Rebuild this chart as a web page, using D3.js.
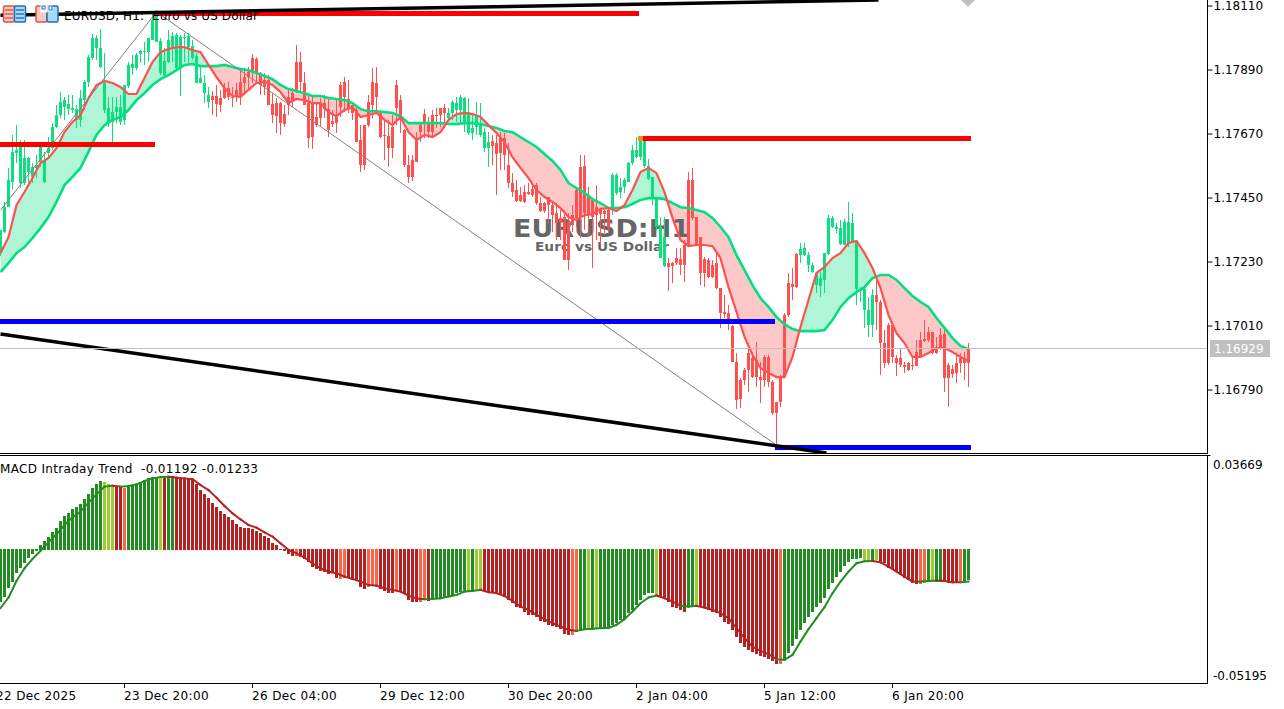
<!DOCTYPE html>
<html>
<head>
<meta charset="utf-8">
<script src="https://cdn.jsdelivr.net/npm/d3@7"></script>
<style>
  html, body { margin: 0; padding: 0; background: #fff; overflow: hidden; }
  text { font-family: "DejaVu Sans", sans-serif; font-size: 12px; fill: #000; }
  .tick text { font-family: "DejaVu Sans", sans-serif; font-size: 12px; }
</style>
</head>
<body>
<script>
// all prices are in points above 1.16000 (1 point = 0.00001)
var base = 1.16;

var highs = [
1336,1433,1550,1663,1697,1646,1646,1587,1567,1594,
1639,1605,1656,1704,1766,1811,1794,1800,1800,1766,
1818,1852,1938,2010,2007,2027,1945,1794,1794,1794,
1800,1835,1914,1938,1945,1955,1983,1996,2086,2093,
1996,1962,2024,2017,2014,2007,2014,2014,1990,1945,
1904,1869,1828,1814,1835,1818,1842,1845,1828,1842,
1886,1893,1897,1941,1931,1879,1876,1869,1807,1790,
1776,1766,1818,1824,1972,1948,1879,1800,1794,1773,
1790,1800,1790,1749,1783,1845,1862,1852,1766,1759,
1697,1697,1800,1893,1897,1742,1715,1715,1732,1852,
1800,1684,1594,1594,1673,1708,1752,1725,1749,1756,
1756,1770,1756,1783,1794,1800,1794,1790,1739,1776,
1773,1687,1673,1663,1663,1673,1670,1635,1532,1508,
1484,1491,1498,1498,1498,1450,1433,1450,1433,1429,
1405,1405,1395,1422,1481,1594,1594,1484,1440,1491,
1412,1405,1412,1532,1532,1515,1515,1570,1629,1656,
1660,1660,1580,1519,1446,1381,1381,1240,1226,1274,
1274,1302,1536,1550,1381,1312,1243,1240,1233,1257,
1137,1113,1079,1010,914,828,862,948,917,951,
883,907,907,821,745,838,1051,1189,1206,1257,
1292,1292,1261,1223,1192,1192,1257,1388,1384,1360,
1371,1374,1433,1395,1295,1140,1137,1106,1134,1165,
1096,993,1017,1010,907,931,883,883,900,958,
986,1027,1003,986,969,1000,993,879,872,907,
914,917,948];

var lows = [
1247,1326,1415,1474,1567,1481,1491,1498,1498,1515,
1553,1498,1584,1611,1687,1721,1715,1732,1739,1687,
1690,1749,1828,1921,1921,1893,1739,1690,1639,1704,
1697,1697,1824,1869,1886,1910,1904,1914,1990,1983,
1869,1862,1910,1914,1886,1797,1914,1910,1921,1842,
1842,1773,1756,1732,1725,1742,1787,1783,1759,1776,
1766,1800,1818,1842,1845,1800,1800,1766,1704,1670,
1663,1690,1732,1759,1807,1807,1766,1618,1615,1690,
1690,1721,1656,1690,1670,1725,1742,1739,1715,1639,
1536,1543,1690,1721,1742,1653,1577,1553,1584,1697,
1670,1553,1498,1505,1570,1639,1653,1653,1656,1687,
1690,1687,1708,1715,1708,1704,1673,1663,1646,1663,
1656,1605,1553,1560,1457,1543,1543,1481,1450,1433,
1433,1429,1457,1450,1422,1398,1395,1360,1329,1302,
1302,1233,1199,1329,1347,1309,1336,1312,1206,1302,
1295,1326,1329,1388,1457,1446,1464,1501,1560,1584,
1577,1550,1508,1422,1336,1240,1209,1127,1154,1216,
1182,1158,1285,1371,1285,1147,1140,1171,1171,1134,
1000,1034,993,883,721,725,804,779,828,797,
742,797,797,700,597,728,828,1037,1096,1137,
1223,1247,1192,1189,1120,1106,1120,1250,1343,1326,
1285,1285,1278,1292,1079,1089,1000,969,969,993,
838,862,872,879,834,865,845,852,855,869,
896,951,951,910,910,924,779,728,828,810,
845,821,797];

var bodyTops = [
1336,1415,1508,1605,1611,1639,1584,1584,1553,1560,
1622,1577,1618,1690,1732,1776,1783,1770,1756,1752,
1790,1845,1931,1996,1996,1962,1842,1756,1742,1759,
1759,1835,1904,1907,1938,1952,1952,1996,2058,2082,
1986,1917,1990,2003,2007,2000,2000,2003,1969,1934,
1859,1842,1800,1797,1797,1790,1824,1824,1794,1818,
1845,1862,1879,1928,1924,1876,1852,1852,1770,1773,
1773,1735,1794,1807,1914,1914,1842,1773,1773,1725,
1773,1773,1752,1711,1728,1835,1845,1787,1766,1749,
1646,1697,1776,1845,1842,1739,1663,1660,1690,1835,
1783,1680,1560,1577,1653,1697,1735,1704,1732,1732,
1756,1756,1739,1776,1773,1794,1790,1742,1687,1732,
1704,1673,1639,1642,1635,1653,1653,1560,1498,1474,
1457,1467,1467,1477,1491,1429,1429,1450,1422,1395,
1378,1381,1364,1388,1474,1553,1556,1457,1440,1415,
1405,1402,1405,1525,1525,1484,1508,1567,1611,1611,
1646,1646,1556,1519,1446,1347,1312,1223,1223,1240,
1237,1285,1508,1508,1381,1312,1237,1233,1216,1223,
1137,1055,1051,1006,883,821,855,914,896,890,
831,900,900,814,745,831,1044,1154,1151,1254,
1271,1274,1250,1216,1189,1171,1257,1378,1378,1347,
1343,1364,1364,1360,1295,1134,1134,1061,1113,1113,
1089,948,1010,1010,896,896,872,879,872,917,
958,962,986,986,934,976,979,872,859,879,
896,896,927];

var bodyBottoms = [
1257,1329,1415,1501,1601,1498,1498,1536,1519,1550,
1570,1501,1601,1618,1690,1732,1759,1752,1749,1715,
1715,1783,1845,1928,1962,1897,1749,1704,1708,1742,
1708,1715,1831,1893,1893,1941,1948,1948,1990,1983,
1876,1869,1914,1965,1893,1893,1996,1965,1928,1842,
1842,1807,1776,1783,1770,1766,1790,1794,1790,1797,
1794,1842,1862,1879,1876,1835,1828,1766,1732,1728,
1704,1701,1766,1783,1811,1845,1766,1653,1656,1697,
1721,1752,1680,1701,1704,1759,1794,1756,1739,1639,
1560,1560,1697,1766,1794,1656,1660,1618,1618,1756,
1715,1560,1519,1519,1570,1673,1704,1673,1673,1728,
1732,1739,1721,1739,1749,1749,1704,1670,1670,1690,
1663,1618,1618,1625,1598,1601,1594,1498,1467,1436,
1436,1433,1460,1457,1429,1402,1402,1422,1388,1360,
1364,1233,1233,1354,1378,1381,1395,1388,1381,1388,
1391,1391,1347,1405,1464,1467,1484,1501,1567,1587,
1587,1556,1512,1446,1347,1240,1213,1209,1213,1223,
1216,1216,1285,1378,1285,1189,1189,1175,1175,1137,
1051,1048,1027,883,752,755,821,855,831,831,
821,821,814,707,707,745,831,1044,1140,1140,
1250,1250,1216,1192,1147,1144,1165,1254,1347,1340,
1288,1285,1292,1295,1134,1130,1061,1010,1010,1089,
948,879,879,900,879,872,865,855,869,869,
900,955,958,914,914,931,828,828,841,845,
879,879,879];

// colour runs of the candles: [trend, number of bars]
var candleRuns = [["up",53],["down",59],["up",11],["down",30],["up",14],["down",33],["up",19],["down",24]];

// the two moving averages, read at every second bar
var lineStep = 2;
var fastLine = [
1257,1312,1422,1467,1515,1567,1584,1618,1673,1708,
1732,1790,1835,1849,1842,1828,1804,1804,1859,1914,
1948,1959,1965,1965,1955,1948,1904,1862,1824,1797,
1794,1818,1842,1845,1835,1811,1773,1787,1783,1773,
1773,1742,1728,1749,1759,1725,1732,1739,1715,1697,
1725,1673,1646,1663,1656,1673,1715,1735,1739,1735,
1725,1697,1670,1639,1587,1550,1515,1474,1450,1433,
1412,1381,1371,1388,1391,1409,1412,1402,1422,1474,
1536,1550,1532,1467,1378,1302,1281,1285,1285,1281,
1240,1140,1055,969,907,862,845,831,831,900,
1003,1096,1189,1209,1240,1257,1292,1299,1257,1206,
1137,1044,982,948,900,900,914,931,931,917,
900,886];
var slowLine = [
1192,1223,1257,1278,1309,1343,1381,1433,1491,1519,
1550,1605,1663,1697,1715,1725,1749,1783,1807,1835,
1855,1869,1886,1904,1907,1900,1900,1900,1904,1897,
1890,1886,1876,1866,1855,1835,1821,1814,1807,1797,
1797,1790,1787,1783,1773,1752,1745,1745,1742,1739,
1728,1704,1704,1704,1704,1704,1701,1701,1704,1704,
1701,1694,1687,1677,1673,1656,1639,1622,1598,1574,
1543,1498,1481,1464,1443,1429,1412,1412,1415,1426,
1440,1446,1446,1443,1429,1415,1412,1405,1398,1378,
1347,1312,1250,1199,1147,1102,1072,1037,1013,996,
989,989,989,993,1027,1072,1102,1123,1140,1171,
1182,1182,1165,1137,1110,1089,1072,1034,1000,965,
938,927];

var priceTicks = [1.1811, 1.1789, 1.1767, 1.1745, 1.1723, 1.1701, 1.1679];
var lastPrice = 1.16929;

// support and resistance levels: bar from, bar to, points
var redLevels = [[38.5,159.5,2081],[-1,38.7,1632],[159.5,242.5,1651]];
var blueLevels = [[-1,193.7,1022],[193.7,242.5,589]];
var blackBars = [0,219.5];
var blackTop = [2075,2127];
var blackBottomBars = [0,206.5];
var blackBottom = [979,570];
var zigBars = [0,39,194];
var zigPoints = [1405,2086,597];

// macd histogram, in 0.00001 units
var macdHist = [
-2015,-1820,-1495,-1235,-884,-715,-520,-325,-169,-39,
195,351,494,689,871,1131,1326,1430,1586,1690,
1781,1989,2171,2431,2561,2691,2639,2561,2509,2509,
2496,2431,2509,2535,2561,2665,2730,2795,2860,2860,
2795,2860,2886,2886,2834,2821,2795,2795,2730,2561,
2340,2171,2015,1820,1690,1534,1391,1300,1170,1001,
910,871,845,806,741,650,546,455,260,195,
39,-39,-169,-234,-234,-260,-351,-481,-650,-754,
-819,-845,-949,-884,-1105,-1131,-1105,-1079,-1131,-1170,
-1456,-1521,-1456,-1404,-1404,-1521,-1586,-1664,-1690,-1586,
-1651,-1716,-1950,-2015,-2015,-2015,-1950,-1976,-1885,-1911,
-1859,-1820,-1781,-1755,-1690,-1625,-1586,-1586,-1586,-1586,
-1560,-1599,-1651,-1690,-1690,-1755,-1820,-1950,-2080,-2236,
-2275,-2431,-2535,-2535,-2626,-2756,-2795,-2925,-2951,-3016,
-3094,-3276,-3315,-3315,-3185,-3146,-3120,-3094,-3068,-3068,
-3055,-3029,-3016,-2925,-2860,-2730,-2691,-2470,-2340,-2145,
-1950,-1755,-1690,-1690,-1755,-1820,-1924,-2015,-2210,-2275,
-2340,-2405,-2210,-2184,-2145,-2236,-2275,-2340,-2405,-2470,
-2626,-2795,-2886,-3120,-3380,-3614,-3770,-3900,-3965,-4056,
-4160,-4186,-4264,-4329,-4446,-4446,-4290,-4030,-3744,-3484,
-3120,-2834,-2626,-2405,-2236,-2054,-1885,-1534,-1274,-1066,
-845,-624,-455,-364,-338,-325,-390,-416,-416,-390,
-455,-520,-715,-754,-845,-975,-1105,-1170,-1300,-1326,
-1326,-1274,-1235,-1235,-1235,-1235,-1235,-1274,-1274,-1274,
-1274,-1235,-1192];

// macd signal, read at every second bar
var macdSignal = [
-2275,-1859,-1209,-715,-351,-39,299,611,975,1274,
1495,1846,2171,2470,2509,2470,2496,2561,2691,2795,
2847,2860,2821,2795,2769,2535,2340,2041,1716,1430,
1196,975,871,689,520,260,0,-130,-299,-520,
-715,-845,
-910,-1040,-1131,-1235,-1365,-1391,-1495,-1560,-1625,-1781,
-1898,-1924,-1911,-1885,-1820,-1755,-1625,-1599,-1560,-1651,
-1690,-1794,-1989,-2210,-2340,-2535,-2704,-2860,-2990,-3120,
-3159,-3094,-3081,-3055,-3042,-2925,-2704,-2405,-2080,-1859,
-1781,
-1885,-2015,-2171,-2210,-2184,-2249,-2340,-2470,-2665,-3055,
-3445,-3770,-3939,-4069,-4264,-4290,-4095,-3575,-3094,-2665,
-2236,-1690,-1235,-845,-520,-442,-429,-481,-650,-845,
-1040,-1235,-1235,-1209,-1196,-1209,-1261,-1261,-1233];

// histogram colour runs: G rising up, L falling up, R falling, O rising down
var histRuns = [["G",26],["L",3],["R",2],["O",1],["G",8],["L",1],["R",1],["G",2],["R",30],["O",1],
  ["R",10],["O",2],["R",5],["O",3],["R",4],["O",1],["R",5],["O",2],["R",1],["G",9],["L",1],["G",1],
  ["L",2],["R",22],["O",2],["G",2],["L",1],["G",1],["L",1],["G",14],["L",1],["R",7],["G",2],["L",1],
  ["R",20],["O",1],["G",20],["L",2],["G",1],["L",1],["R",10],["O",2],["G",1],["L",1],["G",2],["R",4],
  ["O",1],["G",2]];

var macdRange = [-0.05195, 0.03669];
var timeBars = [-1, 31, 63, 95, 127, 159, 191, 223];
var timeLabels = ["22 Dec 2025","23 Dec 20:00","26 Dec 04:00","29 Dec 12:00","30 Dec 20:00","2 Jan 04:00","5 Jan 12:00","6 Jan 20:00"];

var width = 1284;
var height = 709;
var axisX = 1207.5;

var histColors = {G: "#228B22", L: "#9ACD32", R: "#B22222", O: "#FF6347"};
var candleColors = {up: "#0CE07E", down: "#FF5050"};

function expand(runs) {
  var out = [];
  runs.forEach(r => { for (var k = 0; k < r[1]; k++) out.push(r[0]); });
  return out;
}
function price(p) { return base + p / 100000; }

var candleKind = expand(candleRuns);
var histKind = expand(histRuns);

var svg = d3.select("body").append("svg")
  .attr("width", width)
  .attr("height", height)
  .style("display", "block");

var defs = svg.append("defs");
defs.append("clipPath").attr("id", "mainClip").append("rect")
  .attr("x", 0).attr("y", 0).attr("width", axisX).attr("height", 453);
defs.append("clipPath").attr("id", "subClip").append("rect")
  .attr("x", 0).attr("y", 456).attr("width", axisX).attr("height", 227);

// bar index to pixel, 4px a bar
var x = d3.scaleLinear().domain([0, 242]).range([0.5, 968.5]);
var y = d3.scaleLinear().domain([1.1811, 1.1679]).range([5, 389]);
var yMacd = d3.scaleLinear().domain(macdRange).range([683, 456]);

var main = svg.append("g").attr("clip-path", "url(#mainClip)");

// fill between the two moving averages
var lineData = fastLine.map((d, i) => ({i: i * lineStep, fast: price(d), slow: price(slowLine[i])}));

var aboveSlow = d3.area().x(d => x(d.i)).y0(-20).y1(d => y(d.slow));
var belowSlow = d3.area().x(d => x(d.i)).y0(d => y(d.slow)).y1(520);
defs.append("clipPath").attr("id", "aboveSlow").append("path").attr("d", aboveSlow(lineData));
defs.append("clipPath").attr("id", "belowSlow").append("path").attr("d", belowSlow(lineData));

var band = d3.area().x(d => x(d.i)).y0(d => y(d.fast)).y1(d => y(d.slow));
main.append("path").attr("d", band(lineData)).attr("fill", "#B0F5D5").attr("clip-path", "url(#aboveSlow)");
main.append("path").attr("d", band(lineData)).attr("fill", "#FFC8C8").attr("clip-path", "url(#belowSlow)");

// watermark goes over the fill but under the candles
main.append("text").text("EURUSD:H1")
  .attr("x", 513).attr("y", 237)
  .attr("textLength", 177).attr("lengthAdjust", "spacingAndGlyphs")
  .style("font-family", "'DejaVu Sans', sans-serif")
  .style("font-weight", "bold").style("font-size", "25px").style("fill", "#666");
main.append("text").text("Euro vs US Dollar")
  .attr("x", 535).attr("y", 251)
  .attr("textLength", 134).attr("lengthAdjust", "spacingAndGlyphs")
  .style("font-family", "'DejaVu Sans', sans-serif")
  .style("font-weight", "bold").style("font-size", "12.5px").style("fill", "#666");

// current price line
svg.append("line")
  .attr("x1", 0).attr("x2", axisX)
  .attr("y1", Math.floor(y(lastPrice)) + 0.5).attr("y2", Math.floor(y(lastPrice)) + 0.5)
  .attr("stroke", "#C0C0C0");

// candles
var bars = d3.range(highs.length);
main.append("g").selectAll("line")
  .data(bars)
  .join("line")
  .attr("x1", d => x(d)).attr("x2", d => x(d))
  .attr("y1", d => y(price(highs[d]))).attr("y2", d => y(price(lows[d])))
  .attr("stroke", d => candleColors[candleKind[d]])
  .attr("shape-rendering", "crispEdges");
main.append("g").selectAll("rect")
  .data(bars)
  .join("rect")
  .attr("x", d => x(d) - 1.5)
  .attr("width", 3)
  .attr("y", d => y(price(bodyTops[d])))
  .attr("height", d => Math.max(1, y(price(bodyBottoms[d])) - y(price(bodyTops[d]))))
  .attr("fill", d => candleColors[candleKind[d]])
  .attr("shape-rendering", "crispEdges");

// moving averages
main.append("path")
  .attr("d", d3.line().x(d => x(d.i)).y(d => y(d.slow))(lineData))
  .attr("fill", "none").attr("stroke", "#00E080").attr("stroke-width", 2.6);
main.append("path")
  .attr("d", d3.line().x(d => x(d.i)).y(d => y(d.fast))(lineData))
  .attr("fill", "none").attr("stroke", "#FF5050").attr("stroke-width", 2.2);

// zigzag
var zigData = zigBars.map((b, i) => [b, price(zigPoints[i])]);
main.append("path")
  .attr("d", d3.line().x(d => x(d[0])).y(d => y(d[1]))(zigData))
  .attr("fill", "none").attr("stroke", "#808080").attr("stroke-width", 1);

// levels
main.selectAll(".red-level")
  .data(redLevels)
  .join("line")
  .attr("class", "red-level")
  .attr("x1", d => x(d[0])).attr("x2", d => x(d[1]))
  .attr("y1", d => y(price(d[2]))).attr("y2", d => y(price(d[2])))
  .attr("stroke", "#FF0000").attr("stroke-width", 5)
  .attr("shape-rendering", "crispEdges");
main.selectAll(".blue-level")
  .data(blueLevels)
  .join("line")
  .attr("class", "blue-level")
  .attr("x1", d => x(d[0])).attr("x2", d => x(d[1]))
  .attr("y1", d => y(price(d[2]))).attr("y2", d => y(price(d[2])))
  .attr("stroke", "#0000FF").attr("stroke-width", 5)
  .attr("shape-rendering", "crispEdges");

// small orange corners where levels begin
main.append("rect").attr("x", 638).attr("y", y(price(1651)) - 2.5).attr("width", 5).attr("height", 5).attr("fill", "#FF8C00");
main.append("rect").attr("x", 154).attr("y", y(price(2081)) - 2.5).attr("width", 10).attr("height", 2).attr("fill", "#FF8C00");

// black trend lines
main.append("line")
  .attr("x1", x(blackBars[0])).attr("x2", x(blackBars[1]))
  .attr("y1", y(price(blackTop[0]))).attr("y2", y(price(blackTop[1])))
  .attr("stroke", "#000").attr("stroke-width", 3.5);
main.append("line")
  .attr("x1", x(blackBottomBars[0])).attr("x2", x(blackBottomBars[1]))
  .attr("y1", y(price(blackBottom[0]))).attr("y2", y(price(blackBottom[1])))
  .attr("stroke", "#000").attr("stroke-width", 3.5);

// grey arrow at the top
main.append("path").attr("d", "M961,0L975,0L968,7Z").attr("fill", "#C0C0C0");

// header
svg.append("text").text("EURUSD, H1:  Euro vs US Dollar").attr("x", 64).attr("y", 20)
  .attr("textLength", 194).attr("lengthAdjust", "spacing")
  .style("white-space", "pre");

// the two toolbar icons
function icon(ox, parts) {
  var g = svg.append("g").attr("transform", "translate(" + ox + ",5.5)");
  g.append("rect").attr("x", 0.5).attr("y", 0.5).attr("width", 11).attr("height", 16).attr("rx", 1.5)
    .attr("fill", "#FFC8BC").attr("stroke", "#E0504A").attr("stroke-width", 1.5);
  g.append("rect").attr("x", 11.5).attr("y", 0.5).attr("width", 11).attr("height", 16).attr("rx", 1.5)
    .attr("fill", "#A8D8F8").attr("stroke", "#1A70B8").attr("stroke-width", 1.5);
  parts(g);
}
icon(3, g => {
  [4.5, 8.5, 12.5].forEach(v => {
    g.append("line").attr("x1", 2).attr("x2", 10).attr("y1", v).attr("y2", v).attr("stroke", "#E0504A").attr("stroke-width", 1.4);
    g.append("line").attr("x1", 13).attr("x2", 21).attr("y1", v).attr("y2", v).attr("stroke", "#1A70B8").attr("stroke-width", 1.4);
  });
});
icon(35.5, g => {
  g.append("rect").attr("x", 5).attr("y", -1).attr("width", 7).attr("height", 8).attr("fill", "#fff");
  g.append("rect").attr("x", 12).attr("y", -1).attr("width", 5).attr("height", 7).attr("fill", "#fff");
  g.append("rect").attr("x", 13.5).attr("y", 0.5).attr("width", 3).attr("height", 4).attr("fill", "#fff").attr("stroke", "#1A70B8");
  g.append("rect").attr("x", 6.5).attr("y", 0.5).attr("width", 3).attr("height", 3).attr("fill", "#fff").attr("stroke", "#1A70B8");
});

// macd pane
var sub = svg.append("g").attr("clip-path", "url(#subClip)");
var macdValue = macdHist.map(d => d / 100000);

sub.append("g").selectAll("rect")
  .data(bars)
  .join("rect")
  .attr("x", d => x(d) - 1.5)
  .attr("width", 3)
  .attr("y", d => macdValue[d] > 0 ? yMacd(macdValue[d]) : yMacd(0) - 1)
  .attr("height", d => Math.max(1, Math.abs(yMacd(macdValue[d]) - yMacd(0)) + (macdValue[d] > 0 ? 0 : 1)))
  .attr("fill", d => histColors[histKind[d]])
  .attr("shape-rendering", "crispEdges");

var signalLine = d3.line().x(d => x(d.i)).y(d => yMacd(d.v));
var signalSegs = d3.pairs(macdSignal.map((d, i) => ({i: i * lineStep, v: d / 100000})));
sub.append("g").selectAll("path")
  .data(signalSegs)
  .join("path")
  .attr("d", d => signalLine(d))
  .attr("fill", "none")
  .attr("stroke-width", 2)
  .attr("stroke-linecap", "square")
  .attr("stroke", d => (histKind[d[1].i] == "G" || histKind[d[1].i] == "L") ? "#228B22" : "#B22222");

svg.append("text").text("MACD Intraday Trend  -0.01192 -0.01233").attr("x", 0).attr("y", 473)
  .attr("textLength", 258).attr("lengthAdjust", "spacing")
  .style("white-space", "pre");

// frame
svg.append("path")
  .attr("d", "M0,453.5H" + axisX + "V0M0,455.5H" + axisX + "V683.5H0")
  .attr("fill", "none").attr("stroke", "#000").attr("shape-rendering", "crispEdges");

// price axis
var priceAxis = d3.axisRight(y).tickValues(priceTicks).tickFormat(d3.format(".5f")).tickSize(5).tickPadding(1);
var priceG = svg.append("g").attr("transform", "translate(" + axisX + ",0.5)").call(priceAxis);
priceG.select(".domain").remove();
priceG.selectAll(".tick line").attr("stroke", "#000");
priceG.selectAll(".tick text").style("fill", "#000");

// last price tag
svg.append("rect").attr("x", 1210).attr("y", 340).attr("width", 60).attr("height", 17).attr("fill", "#C0C0C0");
svg.append("text").text(lastPrice.toFixed(5)).attr("x", 1214).attr("y", y(lastPrice) + 4).style("fill", "#fff");

// macd axis labels sit inside the pane, the tick only at the top
svg.append("line").attr("x1", axisX).attr("x2", axisX + 3).attr("y1", 455.5).attr("y2", 455.5).attr("stroke", "#000");
svg.append("text").text(macdRange[1].toFixed(5)).attr("x", 1213).attr("y", 469);
svg.append("text").text(macdRange[0].toFixed(5)).attr("x", 1213).attr("y", 680);

// time axis
var timeG = svg.append("g");
timeG.selectAll("line")
  .data(timeBars)
  .join("line")
  .attr("x1", d => Math.floor(x(d)) + 0.5).attr("x2", d => Math.floor(x(d)) + 0.5)
  .attr("y1", 683).attr("y2", 688)
  .attr("stroke", "#000");
timeG.selectAll("text")
  .data(timeBars)
  .join("text")
  .text((d, i) => timeLabels[i])
  .attr("x", d => Math.floor(x(d)))
  .attr("y", 700)
  .style("letter-spacing", "0.35px");
</script>
</body>
</html>
